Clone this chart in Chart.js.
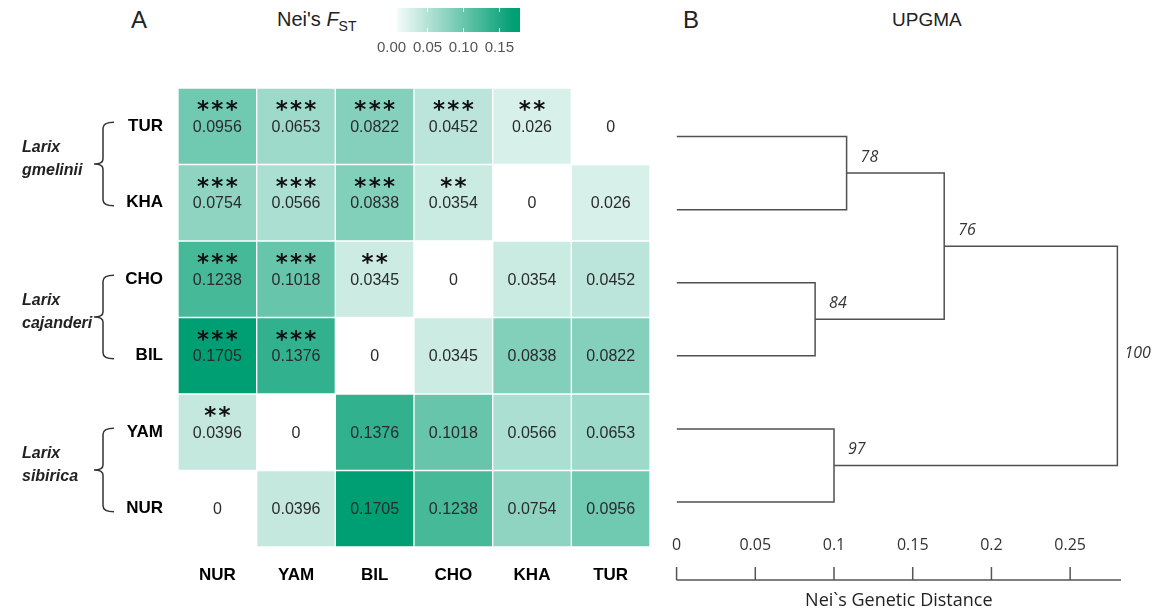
<!DOCTYPE html>
<html>
<head>
<script src="https://cdn.jsdelivr.net/npm/chart.js@4.4.1/dist/chart.umd.min.js"></script>
<style>
  body { margin: 0; background: #fff; font-family: "Liberation Sans", Arial, sans-serif; }
  #wrap { position: relative; width: 1153px; height: 615px; overflow: hidden; }
  canvas { position: absolute; }
  .lbl { position: absolute; color: #222; white-space: nowrap; line-height: 1; }
</style>
</head>
<body>
<div id="wrap">
  <div class="lbl" style="left:131px;top:8px;font-size:24px;">A</div>
  <div class="lbl" style="left:683px;top:8px;font-size:24px;">B</div>
  <div class="lbl" style="left:277px;top:9px;font-size:20px;">Nei's <i>F</i><span style="font-size:14px;position:relative;top:5px;">ST</span></div>
  <div class="lbl" style="left:892px;top:10px;font-size:19px;">UPGMA</div>
  <canvas id="heat" width="660" height="615" style="left:0;top:0"></canvas>
  <canvas id="legend" width="170" height="60" style="left:370px;top:0"></canvas>
  <canvas id="tree" width="493" height="615" style="left:660px;top:0"></canvas>
</div>
<script>
  // populations: columns left->right, rows top->bottom
  var popCols = ["NUR", "YAM", "BIL", "CHO", "KHA", "TUR"];
  var popRows = ["TUR", "KHA", "CHO", "BIL", "YAM", "NUR"];

  // pairwise Nei's Fst, one array per row (columns in popCols order)
  var fstTUR = [0.0956, 0.0653, 0.0822, 0.0452, 0.026, 0];
  var fstKHA = [0.0754, 0.0566, 0.0838, 0.0354, 0, 0.026];
  var fstCHO = [0.1238, 0.1018, 0.0345, 0, 0.0354, 0.0452];
  var fstBIL = [0.1705, 0.1376, 0, 0.0345, 0.0838, 0.0822];
  var fstYAM = [0.0396, 0, 0.1376, 0.1018, 0.0566, 0.0653];
  var fstNUR = [0, 0.0396, 0.1705, 0.1238, 0.0754, 0.0956];

  // significance stars
  var sigTUR = ["***", "***", "***", "***", "**", ""];
  var sigKHA = ["***", "***", "***", "**", "", ""];
  var sigCHO = ["***", "***", "**", "", "", ""];
  var sigBIL = ["***", "***", "", "", "", ""];
  var sigYAM = ["**", "", "", "", "", ""];
  var sigNUR = ["", "", "", "", "", ""];

  // species groups on the left
  var speciesNames = ["gmelinii", "cajanderi", "sibirica"];
  var speciesRows = [["TUR", "KHA"], ["CHO", "BIL"], ["YAM", "NUR"]];

  // colour legend
  var legendTicks = [0, 0.05, 0.10, 0.15];
  var legendRange = [0.008, 0.1787];

  // UPGMA tree (leaves top->bottom, then merges)
  var leafOrder = ["TUR", "KHA", "CHO", "BIL", "YAM", "NUR"];
  var nodeLeft = ["TUR", "CHO", "n1", "YAM", "n3"];
  var nodeRight = ["KHA", "BIL", "n2", "NUR", "n4"];
  var nodeHeight = [0.108, 0.088, 0.170, 0.100, 0.280];
  var nodeSupport = [78, 84, 76, 97, 100];
  var distTicks = [0, 0.05, 0.1, 0.15, 0.2, 0.25];

  var fstRows = [fstTUR, fstKHA, fstCHO, fstBIL, fstYAM, fstNUR];
  var sigRows = [sigTUR, sigKHA, sigCHO, sigBIL, sigYAM, sigNUR];
  var fstHigh = [0, 158, 115];
  var fstMax = Math.max.apply(null, fstRows.map(function (r) { return Math.max.apply(null, r); }));

  Chart.defaults.font.family = "'Liberation Sans', Arial, sans-serif";

  function fstColor(v) {
    var t = v / fstMax;
    var c = fstHigh.map(function (h) { return Math.round(255 + (h - 255) * t); });
    return "rgb(" + c.join(",") + ")";
  }

  // ---------- heatmap ----------
  var cellText = {
    id: "cellText",
    afterDatasetsDraw: function (chart) {
      var ctx = chart.ctx;
      ctx.save();
      ctx.textAlign = "center";
      popRows.forEach(function (name, k) {
        chart.getDatasetMeta(k).data.forEach(function (bar, j) {
          var cy = (bar.y + bar.base) / 2 + 1;
          ctx.fillStyle = "#2b2b2b";
          ctx.font = "16px 'Liberation Sans'";
          ctx.textBaseline = "middle";
          ctx.fillText(String(fstRows[k][j]), bar.x, cy);
          if (sigRows[k][j]) {
            ctx.fillStyle = "#111";
            ctx.font = "bold 23px 'DejaVu Sans'";
            ctx.textBaseline = "alphabetic";
            ctx.fillText(sigRows[k][j].split("").join("\u200a"), bar.x, cy - 10);
          }
        });
      });
      ctx.restore();
    }
  };

  var brackets = {
    id: "brackets",
    afterDraw: function (chart) {
      var ctx = chart.ctx;
      var ys = chart.scales.y;
      ctx.save();
      ctx.strokeStyle = "#333";
      ctx.lineWidth = 1.5;
      speciesRows.forEach(function (pair, g) {
        var y1 = ys.getPixelForValue(5 - popRows.indexOf(pair[0])) - 4;
        var y2 = ys.getPixelForValue(5 - popRows.indexOf(pair[1])) + 3;
        var mid = (y1 + y2) / 2;
        ctx.beginPath();
        ctx.moveTo(114, y1);
        ctx.quadraticCurveTo(103, y1, 103, y1 + 6);
        ctx.lineTo(103, mid - 5);
        ctx.quadraticCurveTo(103, mid, 94, mid);
        ctx.moveTo(94, mid);
        ctx.quadraticCurveTo(103, mid, 103, mid + 5);
        ctx.lineTo(103, y2 - 6);
        ctx.quadraticCurveTo(103, y2, 114, y2);
        ctx.stroke();
        ctx.fillStyle = "#222";
        ctx.font = "italic bold 16px 'Liberation Sans'";
        ctx.textAlign = "left";
        ctx.textBaseline = "middle";
        ctx.fillText("Larix", 22, mid - 16);
        ctx.fillText(speciesNames[g], 22, mid + 7);
      });
      ctx.restore();
    }
  };

  var heatSets = popRows.map(function (name, k) {
    return {
      label: name,
      data: popCols.map(function () { return [5 - k - 0.5, 5 - k + 0.5]; }),
      backgroundColor: fstRows[k].map(fstColor),
      borderColor: "#fff",
      borderWidth: 1,
      borderSkipped: false,
      barPercentage: 1,
      categoryPercentage: 1,
      grouped: false
    };
  });

  new Chart(document.getElementById("heat"), {
    type: "bar",
    data: { labels: popCols, datasets: heatSets },
    options: {
      responsive: false,
      animation: false,
      layout: { padding: { top: 88, right: 10, left: 0, bottom: 0 } },
      plugins: { legend: { display: false }, tooltip: { enabled: false } },
      scales: {
        x: {
          grid: { display: false, drawTicks: false },
          border: { display: false },
          ticks: { color: "#000", font: { size: 17, weight: "bold" }, padding: 18 },
          afterFit: function (s) { s.height = 68; }
        },
        y: {
          min: -0.5,
          max: 5.5,
          grid: { display: false, drawTicks: false },
          border: { display: false },
          afterBuildTicks: function (s) {
            s.ticks = popRows.map(function (n, k) { return { value: 5 - k }; });
          },
          ticks: {
            color: "#000",
            font: { size: 17, weight: "bold" },
            padding: 15,
            callback: function (v) { return popRows[5 - Math.round(v)]; }
          },
          afterFit: function (s) { s.width = 178; }
        }
      }
    },
    plugins: [cellText, brackets]
  });

  // ---------- colour legend ----------
  new Chart(document.getElementById("legend"), {
    type: "bar",
    data: {
      labels: [""],
      datasets: [{
        data: [legendRange],
        backgroundColor: function (c) {
          var xs = c.chart.scales.x;
          if (!c.chart.chartArea || !xs || !isFinite(xs.getPixelForValue(fstMax))) return fstColor(fstMax / 2);
          var g = c.chart.ctx.createLinearGradient(xs.getPixelForValue(0), 0, xs.getPixelForValue(fstMax), 0);
          g.addColorStop(0, "#fff");
          g.addColorStop(1, fstColor(fstMax));
          return g;
        },
        borderWidth: 0,
        barPercentage: 1,
        categoryPercentage: 1
      }]
    },
    options: {
      indexAxis: "y",
      responsive: false,
      animation: false,
      layout: { padding: { top: 8, left: 16, right: 20, bottom: 0 } },
      plugins: { legend: { display: false }, tooltip: { enabled: false } },
      scales: {
        x: {
          min: 0,
          max: legendRange[1],
          afterBuildTicks: function (s) {
            s.ticks = legendTicks.map(function (v) { return { value: v }; });
          },
          grid: { color: "rgba(255,255,255,0.8)", lineWidth: 1, z: 1, drawTicks: false },
          border: { display: false, dash: [4, 16] },
          ticks: {
            color: "#555",
            font: { size: 15 },
            padding: 7,
            callback: function (v) { return v.toFixed(2); }
          },
          afterFit: function (s) { s.height = 28; }
        },
        y: { display: false }
      }
    }
  });

  // ---------- UPGMA dendrogram ----------
  var pos = {};
  leafOrder.forEach(function (n, i) { pos[n] = { x: 0, y: 5 - i }; });
  var treeSets = nodeLeft.map(function (a, i) {
    var b = nodeRight[i];
    var h = nodeHeight[i];
    pos["n" + (i + 1)] = { x: h, y: (pos[a].y + pos[b].y) / 2 };
    return {
      data: [
        { x: pos[a].x, y: pos[a].y },
        { x: h, y: pos[a].y },
        { x: h, y: pos[b].y },
        { x: pos[b].x, y: pos[b].y }
      ],
      showLine: true,
      borderColor: "#505050",
      borderWidth: 1.5,
      pointRadius: 0,
      fill: false
    };
  });

  var supportLabels = {
    id: "supportLabels",
    afterDatasetsDraw: function (chart) {
      var ctx = chart.ctx;
      var xs = chart.scales.x, ys = chart.scales.y;
      ctx.save();
      ctx.fillStyle = "#333";
      ctx.font = "italic 16px 'Open Sans'";
      ctx.textAlign = "left";
      ctx.textBaseline = "middle";
      nodeSupport.forEach(function (s, i) {
        var p = pos["n" + (i + 1)];
        var px = xs.getPixelForValue(p.x), py = ys.getPixelForValue(p.y);
        if (i === nodeSupport.length - 1) {
          ctx.fillText(String(s), px + 7, py - 2);
        } else {
          ctx.fillText(String(s), px + 14, py - 16);
        }
      });
      ctx.restore();
    }
  };

  var distAxis = {
    id: "distAxis",
    afterDraw: function (chart) {
      var ctx = chart.ctx;
      var xs = chart.scales.x;
      var y = chart.chartArea.bottom + 56;
      ctx.save();
      ctx.strokeStyle = "#555";
      ctx.lineWidth = 1.5;
      ctx.beginPath();
      ctx.moveTo(xs.getPixelForValue(0), y);
      ctx.lineTo(xs.getPixelForValue(xs.max), y);
      distTicks.forEach(function (v) {
        var px = xs.getPixelForValue(v);
        ctx.moveTo(px, y);
        ctx.lineTo(px, y - 13);
      });
      ctx.stroke();
      ctx.restore();
    }
  };

  new Chart(document.getElementById("tree"), {
    type: "scatter",
    data: { datasets: treeSets },
    options: {
      responsive: false,
      animation: false,
      layout: { padding: { top: 100, right: 32, left: 15, bottom: 0 } },
      plugins: { legend: { display: false }, tooltip: { enabled: false } },
      scales: {
        x: {
          type: "linear",
          min: 0,
          max: 0.2823,
          afterBuildTicks: function (s) {
            s.ticks = distTicks.map(function (v) { return { value: v }; });
          },
          grid: { display: false, drawTicks: false },
          border: { display: false },
          ticks: {
            color: "#333",
            font: { family: "'Open Sans'", size: 16 },
            padding: 12,
            maxRotation: 0,
            callback: function (v) { return String(+v.toFixed(2)); }
          },
          title: {
            display: true,
            text: "Nei`s Genetic Distance",
            color: "#222",
            font: { family: "'Open Sans'", size: 18 },
            padding: { top: 0, bottom: 3 }
          },
          afterFit: function (s) { s.height = 91; }
        },
        y: { display: false, min: -0.3, max: 5.5 }
      }
    },
    plugins: [supportLabels, distAxis]
  });
</script>
</body>
</html>
